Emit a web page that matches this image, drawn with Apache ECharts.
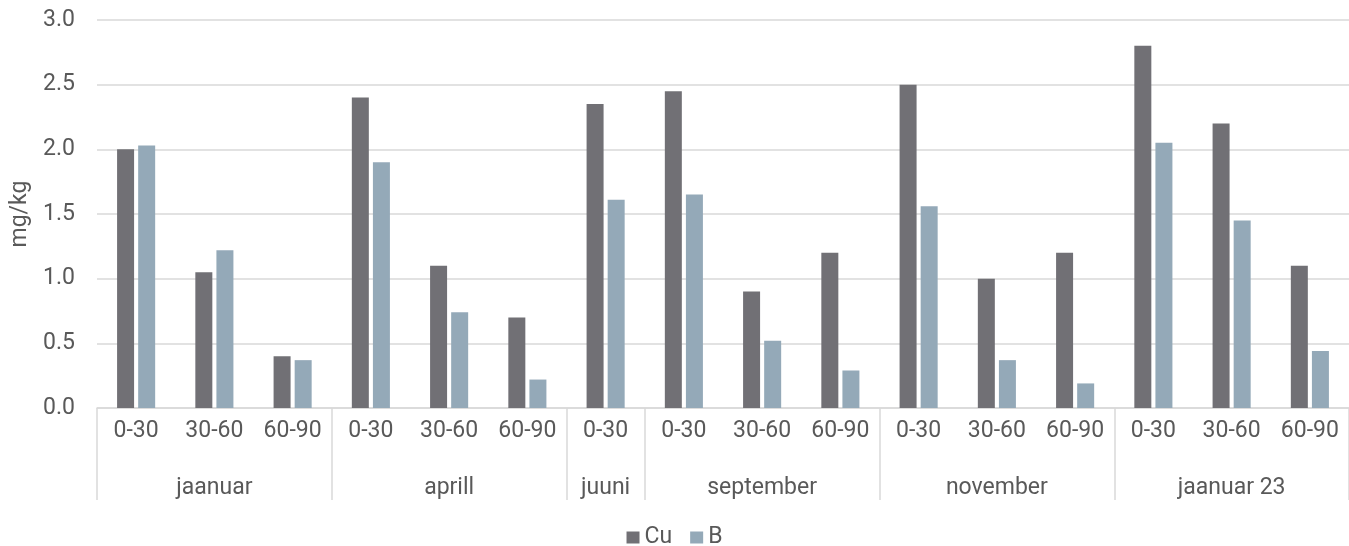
<!DOCTYPE html>
<html>
<head>
<meta charset="utf-8">
<script src="https://cdn.jsdelivr.net/npm/echarts@6/dist/echarts.min.js"></script>
<style>
  html, body { margin: 0; padding: 0; background: #fff; }
  #chart { width: 1349px; height: 546px; }
</style>
</head>
<body>
<div id="chart"></div>
<script>
// Sampling depths (cm) for each sampling occasion
const depths = ['0-30', '30-60', '60-90', '0-30', '30-60', '60-90', '0-30',
                '0-30', '30-60', '60-90', '0-30', '30-60', '60-90', '0-30', '30-60', '60-90'];
// Month of each sample (group label on the second axis row)
const months = ['jaanuar', 'jaanuar', 'jaanuar', 'aprill', 'aprill', 'aprill', 'juuni',
                'september', 'september', 'september', 'november', 'november', 'november',
                'jaanuar 23', 'jaanuar 23', 'jaanuar 23'];
// Concentrations, mg/kg
const cu = [2.0, 1.05, 0.40, 2.4, 1.1, 0.70, 2.35, 2.45, 0.90, 1.2, 2.5, 1.0, 1.2, 2.8, 2.2, 1.1];
const b  = [2.03, 1.22, 0.37, 1.90, 0.74, 0.22, 1.61, 1.65, 0.52, 0.29, 1.56, 0.37, 0.19, 2.05, 1.45, 0.44];
const yTicks = { min: 0, max: 3, interval: 0.5 };

// First index of each month group, and the index where its label sits
const groupStarts = [];
const groupLabelAt = [];
(function () {
  let s = 0;
  for (let i = 1; i <= months.length; i++) {
    if (i === months.length || months[i] !== months[s]) {
      groupStarts.push(s);
      groupLabelAt.push(Math.floor((s + i - 1) / 2));
      s = i;
    }
  }
})();

const textColor = '#595959';
const gridColor = '#d9d9d9';
const font = 'Roboto, "Noto Sans", sans-serif';
const fs = 23;

const chart = echarts.init(document.getElementById('chart'), null, { renderer: 'canvas' });
chart.setOption({
  animation: false,
  textStyle: { fontFamily: font },
  grid: { left: 97, right: 0, top: 20, bottom: 138, containLabel: false },
  legend: {
    bottom: -8,
    left: 'center',
    itemWidth: 13,
    itemHeight: 12,
    itemGap: 18,
    icon: 'rect',
    textStyle: { color: textColor, fontSize: fs, fontFamily: font },
    data: ['Cu', 'B']
  },
  xAxis: [
    {
      type: 'category',
      data: depths,
      position: 'bottom',
      axisLine: { show: true, lineStyle: { color: gridColor, width: 1.5 } },
      axisTick: { show: false },
      axisLabel: { color: textColor, fontSize: fs, margin: 12, interval: 0, fontFamily: font }
    },
    {
      type: 'category',
      data: months,
      position: 'bottom',
      axisLine: { show: false },
      axisTick: {
        show: true,
        length: 92,
        lineStyle: { color: gridColor, width: 1.5 },
        interval: function (idx) { return groupStarts.indexOf(idx) >= 0; }
      },
      axisLabel: {
        color: textColor, fontSize: fs, margin: 69, fontFamily: font,
        interval: function (idx) { return groupLabelAt.indexOf(idx) >= 0; }
      }
    }
  ],
  yAxis: {
    type: 'value',
    min: yTicks.min,
    max: yTicks.max,
    interval: yTicks.interval,
    name: 'mg/kg',
    nameLocation: 'middle',
    nameGap: 63,
    nameTextStyle: { color: textColor, fontSize: fs, fontFamily: font },
    axisLine: { show: false },
    axisTick: { show: false },
    axisLabel: {
      color: textColor, fontSize: fs, margin: 22, fontFamily: font,
      formatter: function (v) { return v.toFixed(1); }
    },
    splitLine: { lineStyle: { color: gridColor, width: 1.5 } }
  },
  series: [
    {
      name: 'Cu', type: 'bar', data: cu, xAxisIndex: 0,
      barWidth: 17, barGap: '24%',
      itemStyle: { color: '#717075' }
    },
    {
      name: 'B', type: 'bar', data: b, xAxisIndex: 0,
      barWidth: 17,
      itemStyle: { color: '#94a9b8' }
    }
  ]
});
</script>
</body>
</html>
